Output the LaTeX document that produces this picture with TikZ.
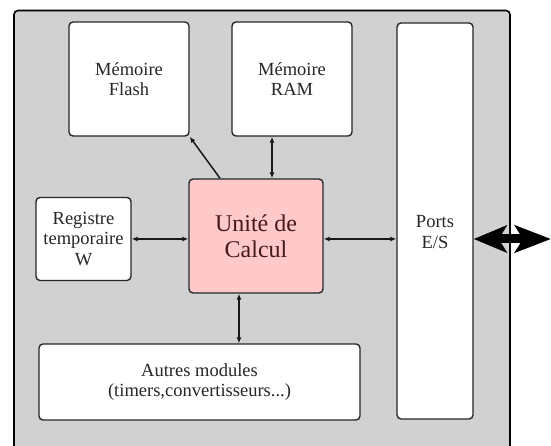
\documentclass[tikz,border=0pt]{standalone}
\usepackage{fontspec}
\setmainfont{Liberation Serif}
\usetikzlibrary{arrows.meta}

\definecolor{fondgris}{RGB}{209,209,209}
\definecolor{rosecalc}{RGB}{255,201,201}
\definecolor{textecalc}{RGB}{70,25,25}

\tikzset{
  bloc/.style={draw=black!85, line width=1.4pt, rounded corners=4pt, fill=white, align=center, font=\fontsize{18.5}{20.5}\selectfont, text=black!85},
  lien/.style={line width=1.5pt, black!90, {Latex[length=6pt,width=5pt]}-{Latex[length=6pt,width=5pt]}},
}

\begin{document}
\begin{tikzpicture}[x=1pt,y=-1pt]
\useasboundingbox (0,0) rectangle (551,446);
\clip (0,0) rectangle (551,446);
\draw[line width=1.6pt, rounded corners=4pt, fill=fondgris] (14,10.5) rectangle (510,470);

\node (flash) [bloc, minimum width=120pt, minimum height=114pt] at (129,79) {Mémoire\\Flash};
\node (ram) [bloc, minimum width=120pt, minimum height=114pt] at (292,79) {Mémoire\\RAM};
\node (ports) [bloc, minimum width=76pt, minimum height=396pt] at (435,221) {};
\node (portstxt) [align=center, font=\fontsize{18.5}{20.5}\selectfont, text=black!85] at (435,232) {Ports\\E/S};
\node (reg) [bloc, minimum width=95pt, minimum height=83pt, inner sep=1pt] at (83.5,239) {Registre\\temporaire\\W};
\node (calc) [bloc, fill=rosecalc, text=textecalc, minimum width=134pt, minimum height=114pt, font=\fontsize{24}{26}\selectfont] at (256,236) {Unité de\\Calcul};
\node (autres) [bloc, minimum width=321pt, minimum height=76pt] at (199.5,382) {Autres modules\\(timers,convertisseurs...)};
\coordinate (io) at (551,239);

\draw[line width=1.5pt, black!90, {Latex[length=6pt,width=5pt]}-] (flash.south east) -- ([xshift=-36pt]calc.north);
\draw[lien] ([xshift=-20pt]ram.south) -- ([xshift=-20pt]ram.south |- calc.north);
\draw[lien] (reg.east) -- (reg.east -| calc.west);
\draw[lien] (calc.east |- reg.east) -- (ports.west |- reg.east);
\draw[lien] ([xshift=-17pt]calc.south) -- ([xshift=-17pt]calc.south |- autres.north);
\draw[line width=9pt, {Stealth[length=33pt,width=27pt,inset=8pt]}-{Stealth[length=36pt,width=27pt,inset=8pt]}] (ports.east |- io) -- (io);
\end{tikzpicture}
\end{document}
